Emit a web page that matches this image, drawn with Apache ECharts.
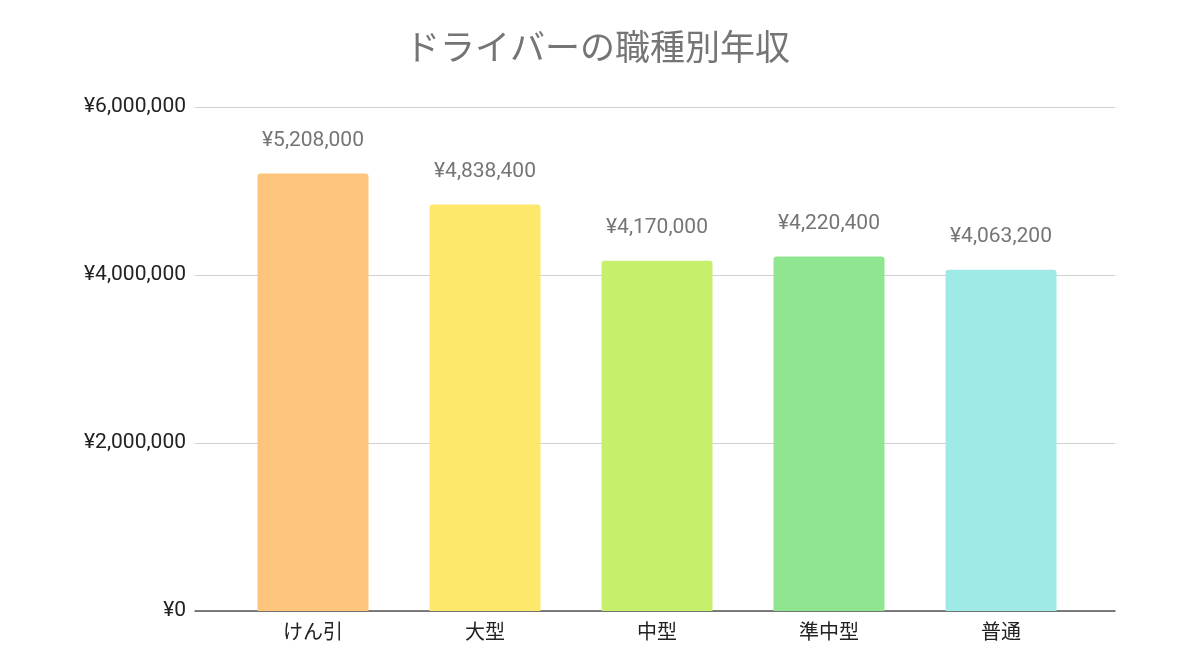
<!DOCTYPE html>
<html>
<head>
<meta charset="utf-8">
<script src="https://cdn.jsdelivr.net/npm/echarts@6/dist/echarts.min.js"></script>
<style>
  html, body { margin: 0; padding: 0; background: #fff; }
  #chart { width: 1200px; height: 672px; }
</style>
</head>
<body>
<div id="chart"></div>
<script>
// データ
var categories = ['けん引', '大型', '中型', '準中型', '普通'];
var salaries = [5208000, 4838400, 4170000, 4220400, 4063200];
var barColors = ['#FDC57B', '#FDE86B', '#C6F06B', '#90E590', '#9FEAE6'];
var yTicks = [0, 2000000, 4000000, 6000000];

var FONT = 'Roboto, "Noto Sans CJK JP", sans-serif';

function yen(v) {
  return '¥' + Number(v).toLocaleString('en-US');
}

var chart = echarts.init(document.getElementById('chart'));

var option = {
  backgroundColor: '#fff',
  title: {
    text: 'ドライバーの職種別年収',
    left: 400,
    top: 29,
    textStyle: { color: '#757575', fontSize: 35, fontWeight: 'normal', fontFamily: FONT }
  },
  grid: [
    // gridlines + y labels + base line
    { left: 195, right: 85, top: 107, bottom: 61 },
    // bars
    { left: 227, right: 113, top: 107, bottom: 61 }
  ],
  xAxis: [
    {
      gridIndex: 0, type: 'value', min: 0, max: 1,
      axisLine: { show: true, lineStyle: { color: '#555', width: 1.5 } },
      axisTick: { show: false }, axisLabel: { show: false }, splitLine: { show: false }
    },
    {
      gridIndex: 1, type: 'category', data: categories,
      axisLine: { show: false }, axisTick: { show: false },
      axisLabel: { color: '#222', fontSize: 20, fontFamily: FONT, margin: 13 }
    }
  ],
  yAxis: [
    {
      gridIndex: 0, type: 'value', min: 0, max: yTicks[yTicks.length - 1], interval: yTicks[1] - yTicks[0],
      axisLine: { show: false }, axisTick: { show: false },
      axisLabel: { color: '#222', fontSize: 21, fontFamily: FONT, margin: 9, formatter: yen },
      splitLine: { lineStyle: { color: '#d0d0d0', width: 1 } }
    },
    {
      gridIndex: 1, type: 'value', min: 0, max: yTicks[yTicks.length - 1],
      show: false, splitLine: { show: false }
    }
  ],
  series: [
    {
      type: 'bar',
      xAxisIndex: 1,
      yAxisIndex: 1,
      barWidth: 111,
      data: salaries.map(function (v, i) {
        return { value: v, itemStyle: { color: barColors[i], borderRadius: [3, 3, 0, 0] } };
      }),
      label: {
        show: true,
        position: 'top',
        distance: 22,
        color: '#757575',
        fontSize: 21,
        fontFamily: FONT,
        formatter: function (p) { return yen(p.value); }
      }
    }
  ]
};

chart.setOption(option);
</script>
</body>
</html>
